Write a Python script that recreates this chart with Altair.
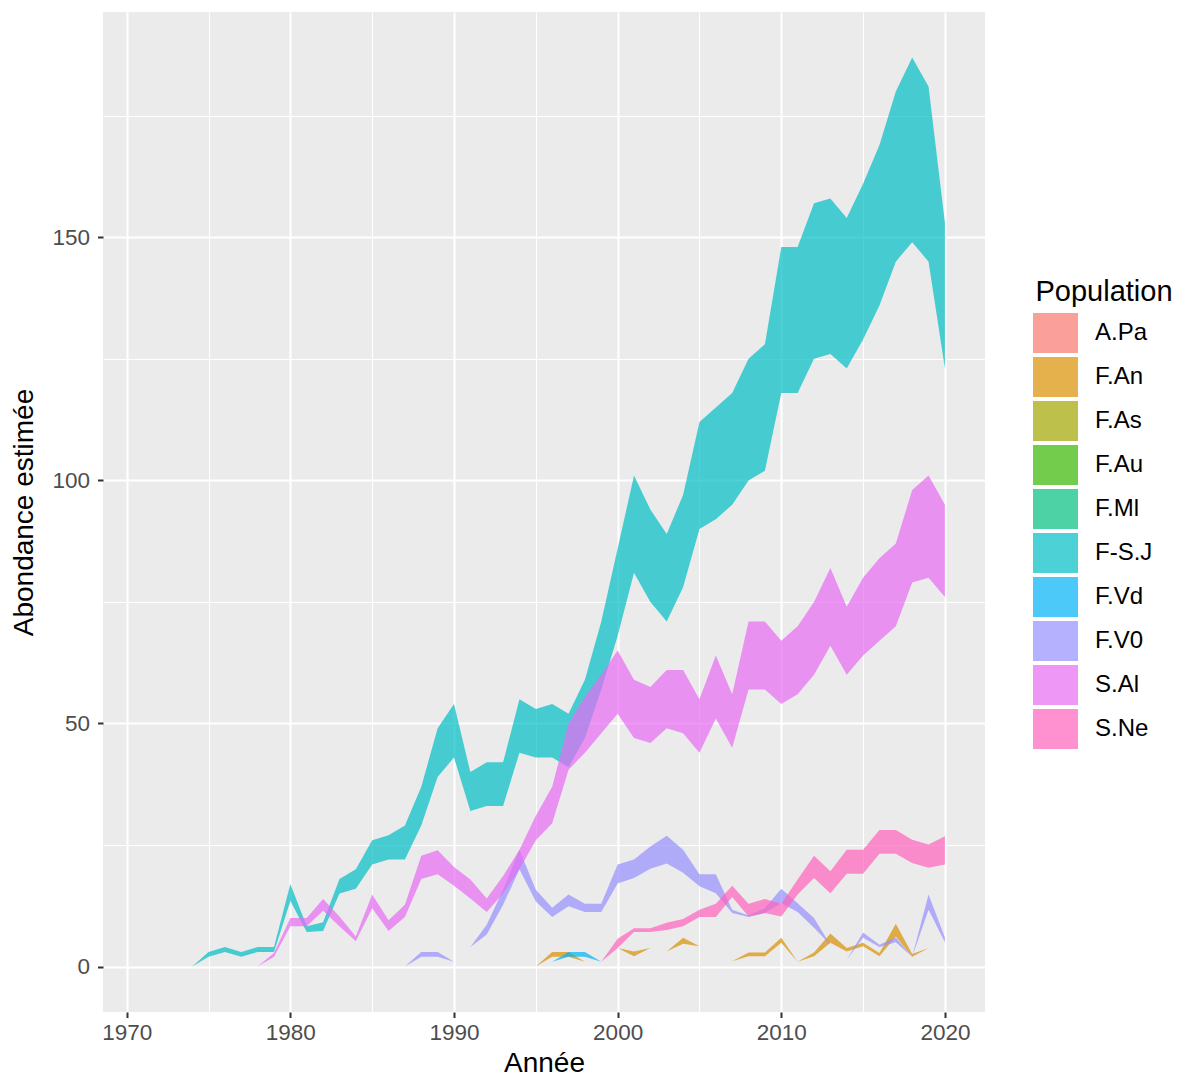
import altair as alt
import pandas as pd

# ---------------- data ----------------
populations = ["A.Pa", "F.An", "F.As", "F.Au", "F.Ml", "F-S.J", "F.Vd", "F.V0", "S.Al", "S.Ne"]
colors = ["#F8766D", "#D89000", "#A3A500", "#39B600", "#00BF7D",
          "#00BFC4", "#00B0F6", "#9590FF", "#E76BF3", "#FF62BC"]

fsj_years = list(range(1974, 2021))
fsj_low = [0, 2, 3, 2, 3, 3, 13.5, 7.1, 7.3, 15, 16, 21, 22, 22, 29, 39, 43, 32, 33, 33,
           44, 43, 43, 41, 47, 57, 68, 81, 75, 71, 78, 90, 92, 95, 100, 102, 118, 118,
           125, 126, 123, 129, 136, 145, 149, 145, 123]
fsj_high = [0, 3, 4, 3, 4, 4, 17, 8.3, 9.1, 18, 20, 26, 27, 29, 37, 49, 54, 40, 42, 42,
            55, 53, 54, 52, 59, 71, 86, 101, 94, 89, 97, 112, 115, 118, 125, 128, 148, 148,
            157, 158, 154, 161, 169, 180, 187, 181, 153]

sal_years = list(range(1978, 2021))
sal_low = [0, 2, 8.3, 8.3, 11.5, 8.3, 5.2, 12, 7.3, 10.2, 18, 19, 16.6, 14, 11.2, 15, 20,
           26, 29.5, 40.5, 44, 48, 52, 47, 46, 49, 48, 44, 51, 45, 57, 57, 54, 56, 60, 66,
           60, 64, 67, 70, 79, 80, 76]
sal_high = [0, 2.8, 10, 10, 13.9, 10.3, 6.2, 14.8, 9.5, 12.7, 22.8, 23.9, 20.5, 17.9, 14,
            18.6, 24, 31, 37, 50, 55.5, 60, 65, 59, 57.5, 61, 61, 55, 64, 56, 71, 71, 67,
            70, 75, 82, 74, 80, 84, 87, 98, 101, 95]

fv0_years = list(range(1987, 2021))
fv0_low = [0, 2, 2, 1, 4, 6.6, 12.7, 20, 13.4, 10.2, 12.4, 11.2, 11.2, 17.1, 18.2, 20.1,
           21.2, 19.3, 16.5, 15.1, 11, 10.2, 11, 13, 11.2, 8, 4.5, 1.4, 5.9, 4, 5, 2,
           11.7, 5]
fv0_high = [0, 3, 3, 1, 4, 8.6, 15.8, 24, 15.8, 12.1, 14.8, 12.9, 12.9, 21, 22, 24.7,
            26.9, 24, 19, 19, 11.7, 10.5, 12, 16, 13, 10, 4.5, 1.4, 7, 4.5, 6, 2, 14.8, 6]

fan_years = list(range(1995, 2020))
fan_low = [0, 2, 2, 1, 2.5, 3.8, 2.1, 3.8, 3.1, 4.7, 4.2, 2.5, 1.1, 2.1, 2.1, 4.9, 1,
           2.1, 4.9, 3.1, 4.2, 2.1, 6.2, 2.0, 3.8]
fan_high = [0, 3, 3, 1, 2.5, 3.8, 3.1, 3.8, 3.1, 5.9, 4.2, 2.5, 1.1, 2.9, 2.9, 5.9, 1,
            2.9, 6.8, 3.8, 4.9, 2.8, 8.8, 2.6, 3.8]

fvd_years = [1996, 1997, 1998, 1999]
fvd_low = [1, 2, 2, 1]
fvd_high = [1, 3, 3, 1]

sne_years = list(range(1999, 2021))
sne_low = [1, 3.8, 7.1, 7.1, 7.5, 8.3, 10.2, 10.2, 14.3, 10.3, 11, 10.3, 14.8, 18.2, 15.1,
           19.1, 19.1, 23.2, 23.2, 21.3, 20.3, 21]
sne_high = [1, 5.7, 7.9, 7.9, 9, 9.8, 11.7, 12.9, 16.6, 12.9, 13.9, 12.9, 17.9, 22.8, 19.6,
            24, 24, 28.1, 28.1, 26.1, 25.1, 26.8]

series = [
    ("F.An", fan_years, fan_low, fan_high),
    ("F-S.J", fsj_years, fsj_low, fsj_high),
    ("F.Vd", fvd_years, fvd_low, fvd_high),
    ("F.V0", fv0_years, fv0_low, fv0_high),
    ("S.Al", sal_years, sal_low, sal_high),
    ("S.Ne", sne_years, sne_low, sne_high),
]

rows = []
for name, yrs, lo, hi in series:
    for yr, a, b in zip(yrs, lo, hi):
        rows.append({"Population": name, "Annee": yr, "low": a, "high": b,
                     "ord": populations.index(name)})
df = pd.DataFrame(rows)

x_breaks = list(range(1970, 2021, 5))
y_breaks = list(range(0, 176, 25))

FONT = "Liberation Sans"

x_axis = alt.Axis(
    values=x_breaks,
    format="d",
    labelExpr="datum.value % 10 === 0 ? datum.label : ''",
    labelOverlap=False,
    grid=True,
    gridColor="white",
    gridWidth={"condition": {"test": "datum.value % 10 === 0", "value": 2.1}, "value": 1.05},
    tickOpacity={"condition": {"test": "datum.value % 10 === 0", "value": 1}, "value": 0},
    tickColor="#333333",
    tickWidth=2,
    tickSize=5.5,
    domain=False,
    labelFont=FONT,
    labelFontSize=22.5,
    labelColor="#4D4D4D",
    labelPadding=4,
    titleFont=FONT,
    titleFontSize=28,
    titleFontWeight="normal",
    titleColor="black",
    titlePadding=5,
)

y_axis = alt.Axis(
    values=y_breaks,
    labelExpr="datum.value % 50 === 0 ? datum.label : ''",
    labelOverlap=False,
    grid=True,
    gridColor="white",
    gridWidth={"condition": {"test": "datum.value % 50 === 0", "value": 2.1}, "value": 1.05},
    tickOpacity={"condition": {"test": "datum.value % 50 === 0", "value": 1}, "value": 0},
    tickColor="#333333",
    tickWidth=2,
    tickSize=5.5,
    domain=False,
    labelFont=FONT,
    labelFontSize=22.5,
    labelColor="#4D4D4D",
    labelPadding=8,
    titleFont=FONT,
    titleFontSize=28,
    titleFontWeight="normal",
    titleColor="black",
    titlePadding=13,
)

legend = alt.Legend(
    title="Population",
    orient="none",
    legendX=932.5,
    legendY=266,
    titleFont=FONT,
    titleFontSize=29,
    titleFontWeight="normal",
    titleColor="black",
    titlePadding=6,
    labelFont=FONT,
    labelFontSize=24,
    labelColor="black",
    labelOffset=19.5,
    symbolType="M-1.125,-1L1.125,-1L1.125,1L-1.125,1Z M0,-1.1L0.001,-1.1 M0,1.1L0.001,1.1",
    symbolSize=1600,
    symbolOpacity=0.7,
    symbolStrokeWidth=0,
    rowPadding=0,
    padding=0,
)

chart = alt.Chart(df).mark_area(opacity=0.7, orient="vertical", interpolate="linear").encode(
    x=alt.X("Annee:Q", title="Année",
            scale=alt.Scale(domain=[1968.55, 2022.45], nice=False, zero=False),
            axis=x_axis),
    y=alt.Y("low:Q", title="Abondance estimée", stack=None,
            scale=alt.Scale(domain=[-9.35, 196.35], nice=False, zero=False),
            axis=y_axis),
    y2="high:Q",
    color=alt.Color("Population:N",
                    scale=alt.Scale(domain=populations, range=colors),
                    legend=legend),
    order=alt.Order("ord:Q"),
).properties(
    width=882,
    height=1000,
    autosize=alt.AutoSizeParams(type="none"),
    padding={"left": 95, "top": 4, "right": 190, "bottom": 65},
    background="white",
).configure_view(
    fill="#EBEBEB",
    stroke=None,
)

chart.save("out.html", embed_options={"renderer": "svg", "actions": False})
